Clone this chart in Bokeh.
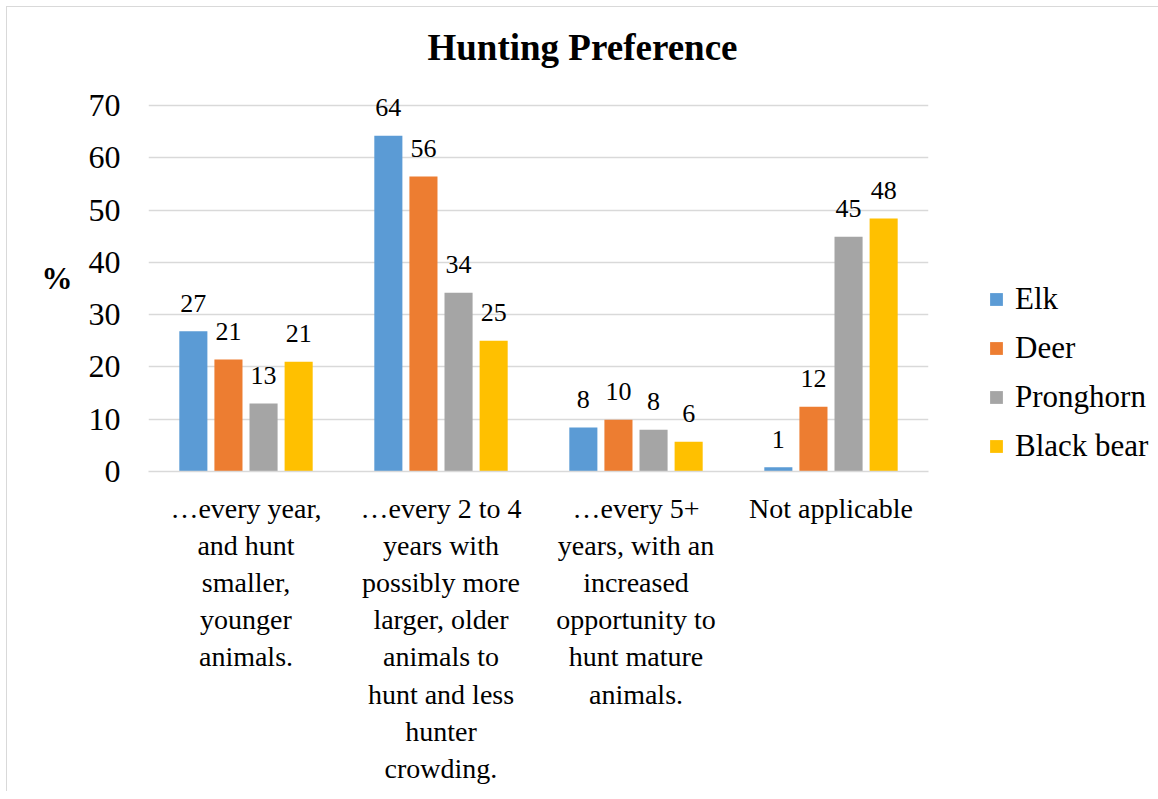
from bokeh.plotting import figure
from bokeh.models import ColumnDataSource, Legend, LegendItem, FactorRange
from bokeh.transform import dodge
from bokeh.embed import file_html
from bokeh.resources import INLINE
from bokeh.core.properties import value

categories = [
    "\u2026every year,\nand hunt\nsmaller,\nyounger\nanimals.",
    "\u2026every 2 to 4\nyears with\npossibly more\nlarger, older\nanimals to\nhunt and less\nhunter\ncrowding.",
    "\u2026every 5+\nyears, with an\nincreased\nopportunity to\nhunt mature\nanimals.",
    "Not applicable",
]
series = ["Elk", "Deer", "Pronghorn", "Black bear"]
elk = [26.8, 64.2, 8.4, 0.8]
deer = [21.4, 56.4, 9.9, 12.4]
pronghorn = [13.0, 34.2, 8.0, 44.9]
black_bear = [21.0, 25.0, 5.7, 48.4]
colors = ["#5B9BD5", "#ED7D31", "#A5A5A5", "#FFC000"]
yticks = [0, 10, 20, 30, 40, 50, 60, 70]

FONT = "Liberation Serif"

data = dict(cat=categories, Elk=elk, Deer=deer, Pronghorn=pronghorn)
data["Black bear"] = black_bear
for s in series:
    data[s + "_lbl"] = ["%d" % round(v) for v in data[s]]
src = ColumnDataSource(data)

# y range extends a little above the top tick so that data labels are not clipped
p = figure(x_range=FactorRange(*categories), y_range=(0, 74),
           frame_width=780, frame_height=387,
           min_border_left=141, min_border_right=214, min_border_top=77, min_border_bottom=320,
           output_backend="svg", toolbar_location=None,
           title="Hunting Preference")
p.outline_line_color = None
p.background_fill_color = "white"
p.border_fill_color = "white"

p.title.text_font = FONT
p.title.text_font_size = "37px"
p.title.text_font_style = "bold"
p.title.text_color = "#000000"
p.title.align = "left"
p.title.offset = 279
p.title.standoff = 34

offsets = [-0.27, -0.09, 0.09, 0.27]
items = []
for s, c, off in zip(series, colors, offsets):
    r = p.vbar(x=dodge("cat", off, range=p.x_range), top=s, width=0.144, source=src,
               fill_color=c, line_color=None)
    items.append(LegendItem(label=s, renderers=[r]))
    p.text(x=dodge("cat", off, range=p.x_range), y=s, text=s + "_lbl", source=src,
           text_align="center", text_baseline="alphabetic", y_offset=-28,
           text_font=value(FONT), text_font_size="26px", text_color="#000000")

p.xgrid.grid_line_color = None
p.ygrid.grid_line_color = "#d9d9d9"
p.ygrid.grid_line_width = 1.5
p.yaxis.ticker = yticks
p.yaxis.axis_line_color = None
p.yaxis.major_tick_line_color = None
p.yaxis.minor_tick_line_color = None
p.yaxis.major_tick_out = 0
p.yaxis.major_tick_in = 0
p.yaxis.major_label_standoff = 28
p.yaxis.major_label_text_font = FONT
p.yaxis.major_label_text_font_size = "32px"
p.yaxis.major_label_text_color = "#000000"

p.yaxis.axis_label = "%"
p.yaxis.axis_label_text_font = FONT
p.yaxis.axis_label_text_font_size = "31px"
p.yaxis.axis_label_text_font_style = "bold"
p.yaxis.axis_label_text_color = "#000000"
p.yaxis.axis_label_standoff = 13
try:
    p.yaxis.axis_label_orientation = "horizontal"
except Exception:
    pass

p.xaxis.axis_line_color = "#d9d9d9"
p.xaxis.axis_line_width = 1.5
p.xaxis.major_tick_line_color = None
p.xaxis.major_tick_out = 0
p.xaxis.major_tick_in = 0
p.xaxis.major_label_standoff = 21
p.xaxis.major_label_text_font = FONT
p.xaxis.major_label_text_font_size = "28px"
p.xaxis.major_label_text_color = "#000000"
p.xaxis.major_label_text_align = "center"

legend = Legend(items=items, location=(60, 7), orientation="vertical",
                label_text_font=FONT, label_text_font_size="31px", label_text_color="#000000",
                glyph_width=16, glyph_height=16, label_standoff=11, spacing=13,
                padding=0, margin=0, border_line_color=None, background_fill_alpha=0)
p.add_layout(legend, "right")

p.styles = {"border-top": "1px solid #d9d9d9", "border-left": "1px solid #d9d9d9",
            "margin": "6px 0 0 6px"}

open("out.html", "w").write(file_html(p, INLINE))
